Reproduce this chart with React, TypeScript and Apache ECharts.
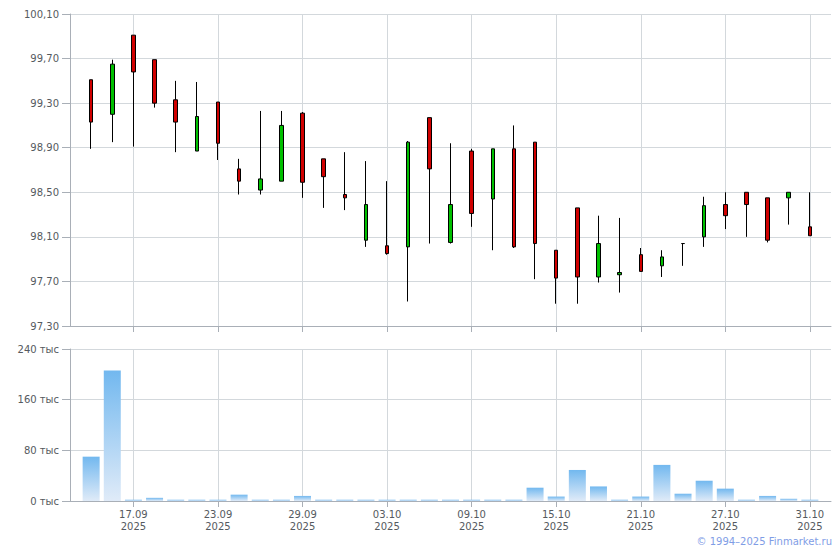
import React, { useEffect, useRef } from 'react';
import * as echarts from 'echarts';

const year = '2025';
const dates = [
  '15.09', '16.09', '17.09', '18.09', '19.09', '22.09', '23.09', '24.09', '25.09', '26.09',
  '29.09', '30.09', '01.10', '02.10', '03.10', '06.10', '07.10', '08.10', '09.10', '10.10',
  '13.10', '14.10', '15.10', '16.10', '17.10', '20.10', '21.10', '22.10', '23.10', '24.10',
  '27.10', '28.10', '29.10', '30.10', '31.10',
];
const labeledDates = ['17.09', '23.09', '29.09', '03.10', '09.10', '15.10', '21.10', '27.10', '31.10'];

const openPrices = [
  99.51, 99.2, 99.91, 99.69, 99.33, 98.87, 99.31, 98.71, 98.52, 98.6,
  99.21, 98.8, 98.48, 98.07, 98.02, 98.01, 99.17, 98.05, 98.87, 98.44,
  98.89, 98.95, 97.98, 98.36, 97.74, 97.76, 97.94, 97.84, 98.04, 98.1,
  98.39, 98.5, 98.45, 98.45, 98.19,
];
const closePrices = [
  99.13, 99.65, 99.58, 99.3, 99.13, 99.18, 98.94, 98.6, 98.62, 99.1,
  98.59, 98.64, 98.45, 98.39, 97.95, 98.95, 98.71, 98.39, 98.31, 98.89,
  98.01, 98.04, 97.73, 97.74, 98.04, 97.78, 97.79, 97.92, 98.04, 98.38,
  98.29, 98.39, 98.07, 98.5, 98.11,
];
const lowPrices = [
  98.89, 98.95, 98.91, 99.26, 98.86, 98.87, 98.79, 98.48, 98.48, 98.6,
  98.45, 98.36, 98.34, 98.01, 97.94, 97.52, 98.04, 98.04, 98.19, 97.98,
  98.0, 97.72, 97.5, 97.5, 97.69, 97.6, 97.79, 97.74, 97.84, 98.01,
  98.17, 98.1, 98.05, 98.21, 98.11,
];
const highPrices = [
  99.51, 99.69, 99.91, 99.69, 99.5, 99.49, 99.31, 98.8, 99.23, 99.23,
  99.22, 98.8, 98.86, 98.78, 98.6, 98.96, 99.17, 98.94, 98.89, 98.89,
  99.1, 98.95, 97.98, 98.36, 98.29, 98.27, 98.0, 97.98, 98.04, 98.46,
  98.5, 98.5, 98.45, 98.5, 98.5,
];
// volume, thousands
const volumes = [
  70, 206, 2, 5, 2, 2, 2, 10, 2, 2,
  8, 2, 2, 2, 2, 2, 2, 2, 2, 2,
  2, 21, 7, 49, 23, 2, 7, 57, 11.5, 32,
  19.5, 2, 8, 3.5, 2,
];

const priceTicks = { min: 97.3, max: 100.1, step: 0.4 };
const volumeTicks = { min: 0, max: 240, step: 80 };

const FONT = 'DejaVu Sans';
const GRID_COLOR = '#d3d8dc';
const AXIS_COLOR = '#a9afb7';
const LABEL_COLOR = '#555a60';

export default function App() {
  const ref = useRef<HTMLDivElement>(null);

  useEffect(() => {
    document.body.style.margin = '0';
    if (!ref.current) return;
    const chart = echarts.init(ref.current, null, { renderer: 'svg' });

    const categories = ['', ...dates, ''];
    const candleData: any[] = [['-', '-', '-', '-']];
    dates.forEach((_, i) => {
      candleData.push([openPrices[i], closePrices[i], lowPrices[i], highPrices[i]]);
    });
    candleData.push(['-', '-', '-', '-']);
    const volData: any[] = ['-', ...volumes, '-'];

    const isLabeled = (_i: number, v: string) => labeledDates.includes(v);

    const xBase = {
      type: 'category' as const,
      data: categories,
      boundaryGap: false,
      axisLine: { lineStyle: { color: AXIS_COLOR, width: 1 } },
      axisTick: { show: true, interval: isLabeled, length: 6, lineStyle: { color: AXIS_COLOR } },
      splitLine: { show: true, interval: isLabeled, lineStyle: { color: GRID_COLOR, width: 1 } },
    };

    chart.setOption({
      animation: false,
      textStyle: { fontFamily: FONT },
      grid: [
        { left: 70, top: 14, width: 761, height: 312 },
        { left: 70, top: 349, width: 761, height: 152 },
      ],
      xAxis: [
        { ...xBase, gridIndex: 0, axisLabel: { show: false } },
        {
          ...xBase,
          gridIndex: 1,
          axisLabel: {
            show: true,
            interval: isLabeled,
            formatter: (v: string) => (v ? v + '\n' + year : ''),
            color: LABEL_COLOR,
            fontFamily: FONT,
            fontSize: 10,
            lineHeight: 12,
            margin: 7,
          },
        },
      ],
      yAxis: [
        {
          type: 'value',
          gridIndex: 0,
          min: priceTicks.min,
          max: priceTicks.max,
          interval: priceTicks.step,
          axisLine: { show: true, lineStyle: { color: AXIS_COLOR } },
          axisTick: { show: true, length: 8, lineStyle: { color: AXIS_COLOR } },
          splitLine: { show: true, lineStyle: { color: GRID_COLOR } },
          axisLabel: {
            color: LABEL_COLOR,
            fontFamily: FONT,
            fontSize: 10,
            margin: 11,
            formatter: (v: number) => v.toFixed(2).replace('.', ','),
          },
        },
        {
          type: 'value',
          gridIndex: 1,
          min: volumeTicks.min,
          max: volumeTicks.max,
          interval: volumeTicks.step,
          axisLine: { show: true, lineStyle: { color: AXIS_COLOR } },
          axisTick: { show: true, length: 8, lineStyle: { color: AXIS_COLOR } },
          splitLine: { show: true, lineStyle: { color: GRID_COLOR } },
          axisLabel: {
            color: LABEL_COLOR,
            fontFamily: FONT,
            fontSize: 10,
            margin: 11,
            formatter: (v: number) => Math.round(v) + ' тыс',
          },
        },
      ],
      series: [
        {
          type: 'candlestick',
          xAxisIndex: 0,
          yAxisIndex: 0,
          data: candleData,
          barWidth: 4,
          itemStyle: {
            color: '#00c000',
            color0: '#d00000',
            borderColor: '#000000',
            borderColor0: '#000000',
            borderColorDoji: '#000000',
            borderWidth: 1,
          },
        },
        {
          type: 'bar',
          xAxisIndex: 1,
          yAxisIndex: 1,
          data: volData,
          barWidth: 17,
          itemStyle: {
            color: new echarts.graphic.LinearGradient(0, 0, 0, 1, [
              { offset: 0, color: '#72b8ef' },
              { offset: 1, color: '#e0ebf8' },
            ]),
          },
        },
      ],
      graphic: [
        {
          type: 'text',
          right: 8,
          top: 536,
          style: {
            text: '© 1994–2025 Finmarket.ru',
            fill: '#7f9de6',
            font: '10px "DejaVu Sans"',
          },
        },
      ],
    });

    return () => chart.dispose();
  }, []);

  return <div ref={ref} style={{ width: 840, height: 550 }} />;
}
